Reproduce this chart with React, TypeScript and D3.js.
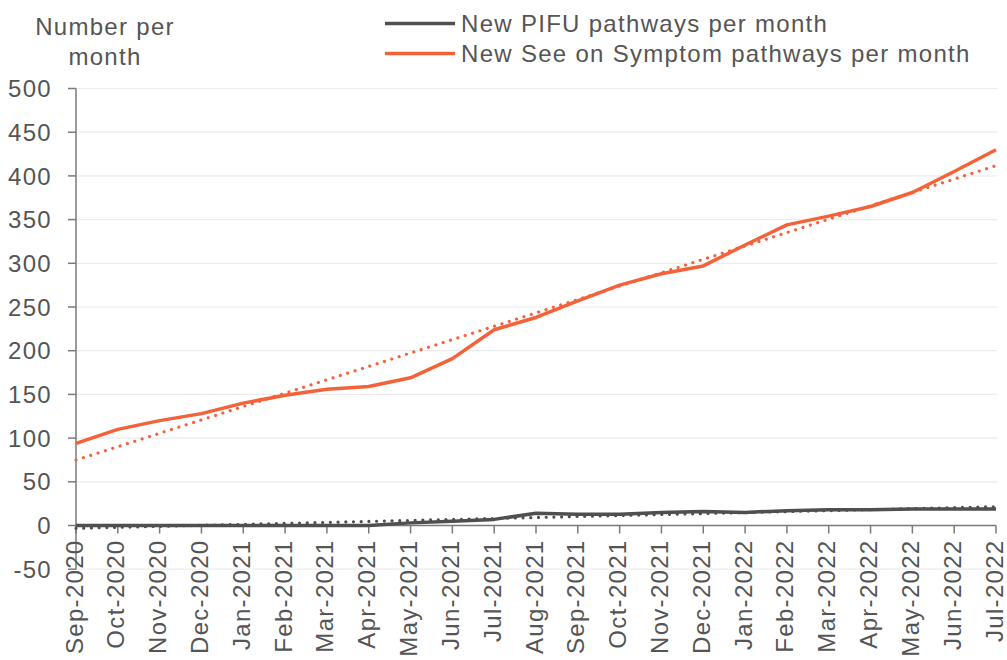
import React from "react";
import * as d3 from "d3";

const months = [
  "Sep-2020", "Oct-2020", "Nov-2020", "Dec-2020", "Jan-2021", "Feb-2021", "Mar-2021", "Apr-2021",
  "May-2021", "Jun-2021", "Jul-2021", "Aug-2021", "Sep-2021", "Oct-2021", "Nov-2021", "Dec-2021",
  "Jan-2022", "Feb-2022", "Mar-2022", "Apr-2022", "May-2022", "Jun-2022", "Jul-2022",
];
const pifu = [0, 0, 0, 0, 0, 0, 0, 0, 3, 5, 7, 14, 13, 13, 15, 16, 15, 17, 18, 18, 19, 19, 19];
const seeOnSymptom = [94, 110, 120, 128, 140, 149, 156, 159, 169, 191, 224, 238, 257, 275, 288, 297, 321, 344, 354, 365, 381, 405, 430];
const yTicks = [-50, 0, 50, 100, 150, 200, 250, 300, 350, 400, 450, 500];
const seriesNames = ["New PIFU pathways per month", "New See on Symptom pathways per month"];

const GRAY = "#4f4f4f";
const ORANGE = "#F4623A";
const TEXT = "#555555";
const AXIS = "#7a7a7a";
const FONT = "'Liberation Sans', Arial, sans-serif";
const FS = 24;
const LS = 1.3;

function trend(values: number[]) {
  const n = values.length;
  const mx = d3.mean(values.map((_, i) => i)) as number;
  const my = d3.mean(values) as number;
  let sxy = 0, sxx = 0;
  values.forEach((v, i) => { sxy += (i - mx) * (v - my); sxx += (i - mx) * (i - mx); });
  const slope = sxy / sxx;
  const b = my - slope * mx;
  return [0, n - 1].map((i) => ({ i, v: b + slope * i }));
}

export default function App() {
  const x0 = 76, x1 = 996, yTop = 88.5, yZero = 525.5;
  const x = d3.scalePoint<string>().domain(months).range([x0, x1]);
  const y = d3.scaleLinear().domain([0, 500]).range([yZero, yTop]);
  const xi = (i: number) => x0 + (i * (x1 - x0)) / (months.length - 1);
  const line = d3.line<number>().x((_, i) => x(months[i]) as number).y((d) => y(d));
  const tline = d3.line<{ i: number; v: number }>().x((d) => xi(d.i)).y((d) => y(d.v));
  const series = [
    { name: seriesNames[0], data: pifu, color: GRAY },
    { name: seriesNames[1], data: seeOnSymptom, color: ORANGE },
  ];
  return (
    <svg width={1007} height={660} style={{ position: "absolute", left: 0, top: 0, background: "#fff" }}
      fontFamily={FONT}>
      {yTicks.map((t) => (
        <line key={"g" + t} x1={x0} x2={x1 + 1} y1={y(t)} y2={y(t)} stroke="#ececec" strokeWidth={1.2} />
      ))}
      <line x1={x0} x2={x0} y1={y(500)} y2={y(-50)} stroke={AXIS} strokeWidth={1.5} />
      {yTicks.map((t) => (
        <g key={"yt" + t}>
          <line x1={x0 - 8} x2={x0} y1={y(t)} y2={y(t)} stroke={AXIS} strokeWidth={1.5} />
          <text x={52} y={y(t)} dy="0.36em" textAnchor="end" fontSize={FS} fill={TEXT} letterSpacing={LS}>
            {t}
          </text>
        </g>
      ))}
      <line x1={x0} x2={x1} y1={y(0)} y2={y(0)} stroke={AXIS} strokeWidth={1.5} />
      {months.map((m) => (
        <g key={m}>
          <line x1={x(m)} x2={x(m)} y1={y(0)} y2={y(0) + 8} stroke={AXIS} strokeWidth={1.5} />
          <text transform={`translate(${x(m)},${y(0) + 14}) rotate(-90)`} dy={6.5} textAnchor="end"
            fontSize={FS} fill={TEXT} letterSpacing={LS}>
            {m}
          </text>
        </g>
      ))}
      {series.map((s) => (
        <path key={"t" + s.name} d={tline(trend(s.data)) as string} fill="none" stroke={s.color}
          strokeWidth={3.2} strokeDasharray="0.01 7.7" strokeLinecap="round" />
      ))}
      {series.map((s) => (
        <path key={"l" + s.name} d={line(s.data) as string} fill="none" stroke={s.color}
          strokeWidth={3.5} strokeLinejoin="round" />
      ))}
      <text x={105} y={35} textAnchor="middle" fontSize={FS} fill={TEXT} letterSpacing={LS}>Number per</text>
      <text x={105} y={65} textAnchor="middle" fontSize={FS} fill={TEXT} letterSpacing={LS}>month</text>
      {series.map((s, i) => (
        <g key={"lg" + s.name} transform={`translate(0,${23.5 + i * 30})`}>
          <line x1={385} x2={455} y1={0} y2={0} stroke={s.color} strokeWidth={3.6} />
          <text x={461} y={0} dy="0.36em" fontSize={FS} fill={TEXT} letterSpacing={LS}>{s.name}</text>
        </g>
      ))}
    </svg>
  );
}
